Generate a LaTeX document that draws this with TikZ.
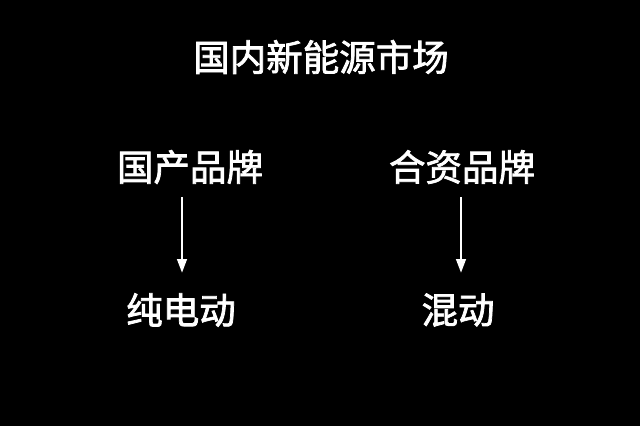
\documentclass[tikz,border=0pt]{standalone}
\usepackage{fontspec}
\newfontfamily\cjk[FakeBold=2]{Noto Sans CJK SC}
\usetikzlibrary{arrows.meta}
\begin{document}
\begin{tikzpicture}[x=1pt,y=-1pt,
  lbl/.style={text=white,font=\cjk\fontsize{36.5}{42}\selectfont,inner sep=0pt,anchor=center},
  arr/.style={draw=white,line width=2.8pt,-{Triangle[width=9.5pt,length=14pt]}}]
\fill[black] (0,0) rectangle (640,426);
\useasboundingbox (0,0) rectangle (640,426);
\node[lbl] (title) at (321,57) {国内新能源市场};
\node[lbl] (dom) at (190,167) {国产品牌};
\node[lbl] (jv) at (462,167) {合资品牌};
\node[lbl] (ev) at (181,310) {纯电动};
\node[lbl] (hyb) at (458,310) {混动};
\coordinate (a1s) at (182,197);
\coordinate (a1e) at (182,273);
\coordinate (a2s) at (461,197);
\coordinate (a2e) at (461,273);
\draw[arr] (a1s) -- (a1e);
\draw[arr] (a2s) -- (a2e);
\end{tikzpicture}
\end{document}
